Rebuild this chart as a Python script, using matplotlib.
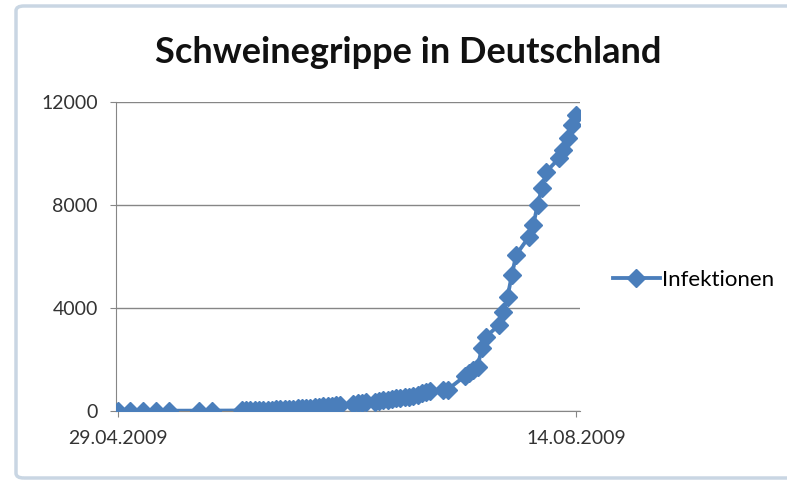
import pandas as pd
import matplotlib.pyplot as plt
import matplotlib.dates as mdates
from matplotlib.patches import FancyBboxPatch

# Schweinegrippe (H1N1) Infektionen in Deutschland, 2009
dates = ['29.04.2009', '02.05.2009', '05.05.2009', '08.05.2009', '11.05.2009',
         '18.05.2009', '21.05.2009', '28.05.2009', '29.05.2009', '30.05.2009',
         '31.05.2009', '01.06.2009', '02.06.2009', '03.06.2009', '04.06.2009',
         '05.06.2009', '06.06.2009', '07.06.2009', '08.06.2009', '09.06.2009',
         '10.06.2009', '11.06.2009', '12.06.2009', '13.06.2009', '14.06.2009',
         '15.06.2009', '16.06.2009', '17.06.2009', '18.06.2009', '19.06.2009',
         '20.06.2009', '23.06.2009', '24.06.2009', '25.06.2009', '26.06.2009',
         '28.06.2009', '29.06.2009', '30.06.2009', '01.07.2009', '02.07.2009',
         '03.07.2009', '04.07.2009', '05.07.2009', '06.07.2009', '07.07.2009',
         '08.07.2009', '09.07.2009', '10.07.2009', '11.07.2009', '14.07.2009',
         '15.07.2009', '19.07.2009', '20.07.2009', '21.07.2009', '22.07.2009',
         '23.07.2009', '24.07.2009', '27.07.2009', '28.07.2009', '29.07.2009',
         '30.07.2009', '31.07.2009', '03.08.2009', '04.08.2009', '05.08.2009',
         '06.08.2009', '07.08.2009', '10.08.2009', '11.08.2009', '12.08.2009',
         '13.08.2009', '14.08.2009']
infektionen = [3, 8, 10, 11, 12,
               14, 15, 20, 25, 30,
               35, 40, 45, 50, 55,
               62, 70, 75, 85, 95,
               105, 115, 125, 135, 145,
               160, 175, 190, 205, 220,
               235, 290, 310, 330, 345,
               360, 380, 410, 430, 460,
               500, 520, 540, 560, 600,
               640, 680, 720, 760, 800,
               830, 1350, 1480, 1600, 1720,
               2430, 2890, 3340, 3860, 4440,
               5280, 6060, 6770, 7220, 8000,
               8650, 9290, 9810, 10140, 10590,
               11110, 11500]
yticks = [0, 4000, 8000, 12000]

df = pd.DataFrame({'datum': pd.to_datetime(dates, format='%d.%m.%Y'),
                   'infektionen': infektionen})

plt.rcParams['font.family'] = ['Lato', 'DejaVu Sans']
blue = '#4a7ebb'

fig = plt.figure(figsize=(7.87, 4.80), dpi=100)

# chart frame
fig.patches.append(FancyBboxPatch((16/787, 2/480), 800/787, 472/480,
                                  boxstyle='round,pad=0,rounding_size=0.01',
                                  transform=fig.transFigure, fill=False,
                                  edgecolor='#c9d6e3', linewidth=2.5))

ax = fig.add_axes([116/787, 69/480, 464/787, 309/480])
ax.plot(df['datum'], df['infektionen'], color=blue, linewidth=2.75,
        marker='D', markersize=9, markerfacecolor=blue, markeredgecolor=blue,
        label='Infektionen', zorder=3)

start = df['datum'].iloc[0]
end = df['datum'].iloc[-1]
ax.set_xlim(start - pd.Timedelta(days=0.35), start + pd.Timedelta(days=107.9))
ax.set_ylim(0, 12000)
ax.set_yticks(yticks)
ax.set_xticks([start, end])
ax.xaxis.set_major_formatter(mdates.DateFormatter('%d.%m.%Y'))

ax.grid(axis='y', color='#868686', linewidth=1)
ax.set_axisbelow(True)
for s in ['top', 'right']:
    ax.spines[s].set_visible(False)
for s in ['left', 'bottom']:
    ax.spines[s].set_color('#868686')
ax.tick_params(axis='both', colors='#868686', labelcolor='#333333',
               labelsize=14, length=4, direction='out')
ax.tick_params(axis='y', pad=9)
ax.tick_params(axis='x', pad=10)

fig.text(408/787, 1 - 63/480, 'Schweinegrippe in Deutschland', fontsize=26,
         fontweight='bold', ha='center', va='baseline', color='#111111')
fig.legend(loc='center left', bbox_to_anchor=(593/787, 1 - 280/480),
           frameon=False, fontsize=16, handlelength=2.1, handletextpad=0.1)

fig.savefig('out.png', dpi=100)
